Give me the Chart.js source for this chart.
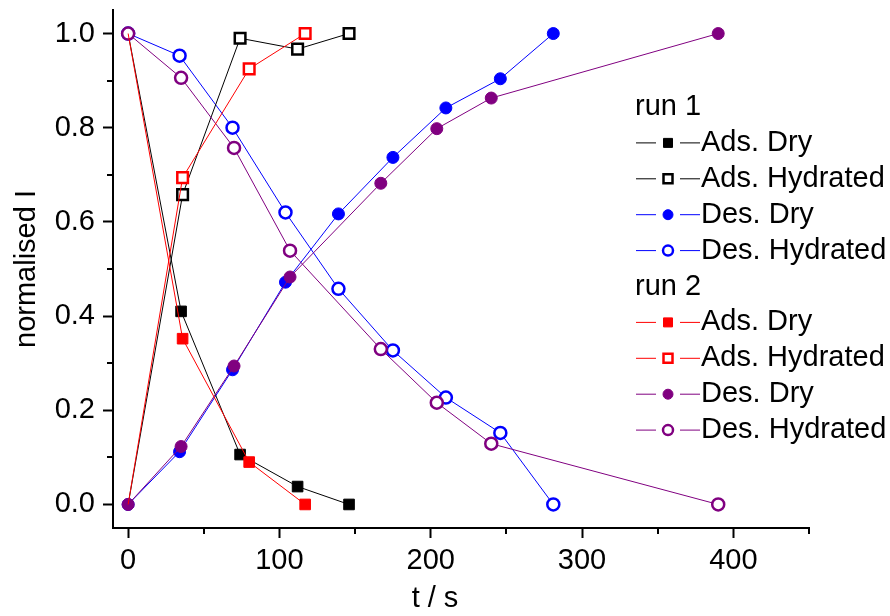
<!DOCTYPE html>
<html>
<head>
<meta charset="utf-8">
<script src="https://cdn.jsdelivr.net/npm/chart.js@4.4.1/dist/chart.umd.min.js"></script>
<style>
    html, body { margin: 0; padding: 0; background: #fff; }
</style>
</head>
<body>
<canvas id="kineticsChart" width="890" height="616"></canvas>
<script>
// run 1
const tAdsDry1 = [0, 35, 74, 112, 146];
const iAdsDry1 = [1.0, 0.41, 0.106, 0.038, 0.0];
const tAdsHyd1 = [0, 36, 74, 112, 146];
const iAdsHyd1 = [0.0, 0.658, 0.99, 0.967, 1.0];
const tDes1 = [0, 34, 69, 104, 139, 175, 210, 246, 281];
const iDesDry1 = [0.0, 0.112, 0.286, 0.472, 0.617, 0.737, 0.842, 0.904, 1.0];
const iDesHyd1 = [1.0, 0.953, 0.80, 0.62, 0.458, 0.327, 0.227, 0.152, 0.0];

// run 2
const tAds2 = [0, 36, 80, 117];
const iAdsDry2 = [1.0, 0.352, 0.09, 0.0];
const iAdsHyd2 = [0.0, 0.694, 0.925, 1.0];
const tDes2 = [0, 35, 70, 107, 167, 204, 240, 390];
const iDesDry2 = [0.0, 0.123, 0.294, 0.483, 0.682, 0.798, 0.863, 1.0];
const iDesHyd2 = [1.0, 0.906, 0.757, 0.539, 0.33, 0.216, 0.129, 0.0];

const seriesNames = ['Ads. Dry', 'Ads. Hydrated', 'Des. Dry', 'Des. Hydrated'];
const runNames = ['run 1', 'run 2'];

const xMajorTicks = [0, 100, 200, 300, 400];
const xMinorTicks = [50, 150, 250, 350, 450];
const yMajorTicks = [0, 0.2, 0.4, 0.6, 0.8, 1.0];
const yMinorTicks = [0.1, 0.3, 0.5, 0.7, 0.9];

const FONT = "'Liberation Sans', Arial, sans-serif";
const FSIZE = 29;

function pts(xs, ys) {
    return xs.map((x, i) => ({ x: x, y: ys[i] }));
}

function makeSet(label, xs, ys, color, style, open, order, hideFirst) {
    const r = style === 'rect' ? 7.5 : 6;
    return {
        label: label,
        data: pts(xs, ys),
        borderColor: color,
        borderWidth: 1,
        pointStyle: style,
        pointRadius: ctx => (hideFirst && ctx.dataIndex === 0) ? 0 : r,
        pointBackgroundColor: open ? '#fff' : color,
        pointBorderColor: color,
        pointBorderWidth: open ? 2.5 : 1,
        legendOpen: open,
        fill: false,
        tension: 0,
        order: order
    };
}

const datasets = [
    makeSet('Ads. Dry', tAdsDry1, iAdsDry1, '#000000', 'rect', false, 1, true),
    makeSet('Ads. Hydrated', tAdsHyd1, iAdsHyd1, '#000000', 'rect', true, 1, true),
    makeSet('Des. Dry', tDes1, iDesDry1, '#0000ff', 'circle', false, 1, false),
    makeSet('Des. Hydrated', tDes1, iDesHyd1, '#0000ff', 'circle', true, 1, false),
    makeSet('Ads. Dry', tAds2, iAdsDry2, '#ff0000', 'rect', false, 0, true),
    makeSet('Ads. Hydrated', tAds2, iAdsHyd2, '#ff0000', 'rect', true, 0, true),
    makeSet('Des. Dry', tDes2, iDesDry2, '#800080', 'circle', false, 0, false),
    makeSet('Des. Hydrated', tDes2, iDesHyd2, '#800080', 'circle', true, 0, false)
];

// minor ticks, x title and the grouped legend
const extrasPlugin = {
    id: 'extras',
    afterDraw(chart) {
        const ctx = chart.ctx;
        const xs = chart.scales.x;
        const ys = chart.scales.y;
        const area = chart.chartArea;
        ctx.save();
        ctx.strokeStyle = '#000';
        ctx.lineWidth = 2;
        xMinorTicks.forEach(v => {
            const px = Math.round(xs.getPixelForValue(v));
            ctx.beginPath();
            ctx.moveTo(px, area.bottom);
            ctx.lineTo(px, area.bottom + 6);
            ctx.stroke();
        });
        yMinorTicks.forEach(v => {
            const py = Math.round(ys.getPixelForValue(v));
            ctx.beginPath();
            ctx.moveTo(area.left, py);
            ctx.lineTo(area.left - 6, py);
            ctx.stroke();
        });

        ctx.fillStyle = '#000';
        ctx.font = FSIZE + 'px ' + FONT;
        ctx.textAlign = 'center';
        ctx.textBaseline = 'middle';
        ctx.fillText('t / s', 435, 599);

        // legend
        ctx.textAlign = 'left';
        let row = 0;
        const top = 107, step = 35.9;
        runNames.forEach((run, ri) => {
            ctx.fillStyle = '#000';
            ctx.fillText(run, 635, top + row * step);
            row++;
            for (let k = 0; k < 4; k++) {
                const ds = chart.data.datasets[ri * 4 + k];
                const y = top + row * step;
                ctx.strokeStyle = ds.borderColor;
                ctx.lineWidth = 1;
                ctx.beginPath();
                ctx.moveTo(636, y); ctx.lineTo(656, y);
                ctx.moveTo(680, y); ctx.lineTo(700, y);
                ctx.stroke();
                ctx.fillStyle = ds.legendOpen ? '#fff' : ds.borderColor;
                ctx.lineWidth = ds.legendOpen ? 2.5 : 1;
                ctx.beginPath();
                if (ds.pointStyle === 'rect') {
                    ctx.rect(668 - 4.5, y - 4.5, 9, 9);
                } else {
                    ctx.arc(668, y, 5, 0, Math.PI * 2);
                }
                ctx.fill();
                ctx.stroke();
                ctx.fillStyle = '#000';
                ctx.fillText(seriesNames[k], 701, y);
                row++;
            }
        });
        ctx.restore();
    }
};

new Chart(document.getElementById('kineticsChart'), {
    type: 'line',
    data: { datasets: datasets },
    options: {
        responsive: false,
        devicePixelRatio: 1,
        animation: false,
        layout: { padding: { left: 0, right: 81, top: 9, bottom: 0 } },
        plugins: {
            legend: { display: false },
            tooltip: { enabled: false }
        },
        scales: {
            x: {
                type: 'linear',
                min: -10,
                max: 450,
                afterBuildTicks: s => { s.ticks = xMajorTicks.map(v => ({ value: v })); },
                afterFit: s => { s.height = 88; s.paddingLeft = 0; s.paddingRight = 0; },
                ticks: {
                    color: '#000',
                    font: { family: FONT, size: FSIZE },
                    padding: 6,
                    maxRotation: 0,
                    autoSkip: false,
                    callback: v => String(v)
                },
                grid: { drawOnChartArea: false, tickLength: 10, tickWidth: 2, tickColor: '#000' },
                border: { color: '#000', width: 2 }
            },
            y: {
                type: 'linear',
                min: -0.05,
                max: 1.05,
                afterBuildTicks: s => { s.ticks = yMajorTicks.map(v => ({ value: v })); },
                afterFit: s => { s.width = 113; s.paddingTop = 0; s.paddingBottom = 0; },
                ticks: {
                    color: '#000',
                    font: { family: FONT, size: FSIZE },
                    padding: 8,
                    autoSkip: false,
                    callback: v => Number(v).toFixed(1)
                },
                grid: { drawOnChartArea: false, tickLength: 10, tickWidth: 2, tickColor: '#000' },
                border: { color: '#000', width: 2 },
                title: {
                    display: true,
                    text: 'normalised I',
                    color: '#000',
                    font: { family: FONT, size: FSIZE },
                    padding: { top: 10, bottom: 0 }
                }
            }
        }
    },
    plugins: [extrasPlugin]
});
</script>
</body>
</html>
